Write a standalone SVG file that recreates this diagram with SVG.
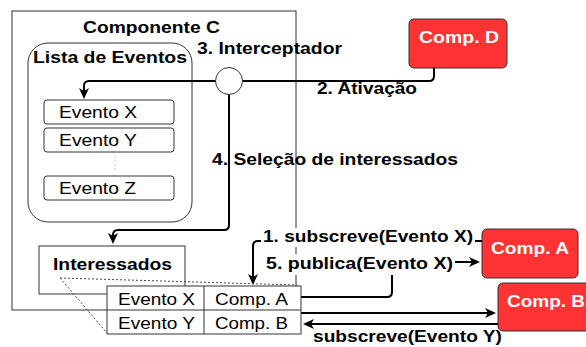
<svg xmlns="http://www.w3.org/2000/svg" width="586" height="347" viewBox="0 0 586 347">
<defs>
<style>
text{font-family:"Liberation Sans",Arial,Helvetica,sans-serif;font-size:17px;fill:#000}
.b{font-weight:bold}
.w{fill:#fff;font-weight:bold}
.box{fill:#fff;stroke:#333;stroke-width:1}
.red{fill:#ff3333;stroke:#333;stroke-width:1}
.con{fill:none;stroke:#000;stroke-width:2}
.dot{fill:none;stroke:#444;stroke-width:1;stroke-dasharray:2 2}
</style>
<marker id="arr" viewBox="0 0 11 10" refX="9" refY="5" markerWidth="11" markerHeight="10" markerUnits="userSpaceOnUse" orient="auto">
<path d="M0,0 L11,5 L0,10 L3,5 z" fill="#000"/>
</marker>
</defs>
<rect width="586" height="347" fill="#fff"/>

<g id="componente-c">
<rect class="box" x="12" y="11" width="284" height="299"/>
<text class="b" x="83" y="33" textLength="137" lengthAdjust="spacingAndGlyphs">Componente C</text>
</g>

<g id="lista-eventos">
<rect class="box" x="28" y="43" width="164" height="179" rx="20" ry="20"/>
<text class="b" x="33" y="63" textLength="154" lengthAdjust="spacingAndGlyphs">Lista de Eventos</text>
</g>

<g id="evento-x">
<rect class="box" x="44" y="100" width="130" height="24" rx="3"/>
<text x="59" y="118" textLength="78" lengthAdjust="spacingAndGlyphs">Evento X</text>
</g>
<g id="evento-y">
<rect class="box" x="44" y="128" width="130" height="24" rx="3"/>
<text x="59" y="146" textLength="78" lengthAdjust="spacingAndGlyphs">Evento Y</text>
</g>
<line x1="115" y1="156" x2="115" y2="170" stroke="#ccc" stroke-width="1" stroke-dasharray="2 2"/>
<g id="evento-z">
<rect class="box" x="44" y="176" width="130" height="24" rx="3"/>
<text x="59" y="194" textLength="77" lengthAdjust="spacingAndGlyphs">Evento Z</text>
</g>

<g id="interessados">
<rect class="box" x="39" y="246" width="146" height="48"/>
<text class="b" x="53" y="270" textLength="119" lengthAdjust="spacingAndGlyphs">Interessados</text>
</g>

<g id="comp-d">
<rect class="red" x="409" y="19" width="98" height="49" rx="5"/>
<text class="w" x="419" y="43" textLength="80" lengthAdjust="spacingAndGlyphs">Comp. D</text>
</g>
<g id="comp-a">
<rect class="red" x="482" y="229" width="96" height="49" rx="5"/>
<text class="w" x="491" y="254" textLength="78" lengthAdjust="spacingAndGlyphs">Comp. A</text>
</g>
<g id="comp-b">
<rect class="red" x="498" y="283" width="96" height="48" rx="5"/>
<text class="w" x="507" y="307" textLength="78" lengthAdjust="spacingAndGlyphs">Comp. B</text>
</g>

<g id="connectors">
<path class="con" d="M434,68 V76 Q434,81 429,81 H242"/>
<path class="con" d="M216,81 H89 Q84,81 84,86 V97" marker-end="url(#arr)"/>
<path class="con" d="M229,95 V225 Q229,230 224,230 H118 Q113,230 113,235 V242" marker-end="url(#arr)"/>
<path class="con" d="M482,241 H258 Q253,241 253,246 V283" marker-end="url(#arr)"/>
<path class="con" d="M301,297 H387 Q392,297 392,292 V267 Q392,262 397,262 H478" marker-end="url(#arr)"/>
<path class="con" d="M301,313 H494" marker-end="url(#arr)"/>
<path class="con" d="M498,324 H305" marker-end="url(#arr)"/>
<line class="dot" x1="60" y1="278" x2="297" y2="285"/>
<line class="dot" x1="60" y1="278" x2="107" y2="333"/>
</g>

<g id="interceptador">
<circle cx="229" cy="81" r="13.5" fill="#fff" stroke="#333" stroke-width="1"/>
</g>

<g id="tabela">
<rect class="box" x="107" y="286" width="194" height="48"/>
<line x1="107" y1="310" x2="301" y2="310" stroke="#333" stroke-width="1"/>
<line x1="204" y1="286" x2="204" y2="334" stroke="#333" stroke-width="1"/>
<text x="118" y="305" textLength="77" lengthAdjust="spacingAndGlyphs">Evento X</text>
<text x="215" y="305" textLength="73" lengthAdjust="spacingAndGlyphs">Comp. A</text>
<text x="118" y="329" textLength="77" lengthAdjust="spacingAndGlyphs">Evento Y</text>
<text x="215" y="329" textLength="73" lengthAdjust="spacingAndGlyphs">Comp. B</text>
</g>

<g id="labels">
<text class="b" x="197" y="54" textLength="145" lengthAdjust="spacingAndGlyphs">3. Interceptador</text>
<text class="b" x="317" y="94" textLength="100" lengthAdjust="spacingAndGlyphs">2. Ativação</text>
<text class="b" x="212" y="165" textLength="246" lengthAdjust="spacingAndGlyphs">4. Seleção de interessados</text>
<rect x="261" y="228" width="214" height="19" fill="#fff"/>
<text class="b" x="263" y="242" textLength="210" lengthAdjust="spacingAndGlyphs">1. subscreve(Evento X)</text>
<rect x="264" y="254" width="191" height="21" fill="#fff"/>
<text class="b" x="266" y="269" textLength="187" lengthAdjust="spacingAndGlyphs">5. publica(Evento X)</text>
<text class="b" x="313" y="342" textLength="189" lengthAdjust="spacingAndGlyphs">subscreve(Evento Y)</text>
</g>
</svg>
